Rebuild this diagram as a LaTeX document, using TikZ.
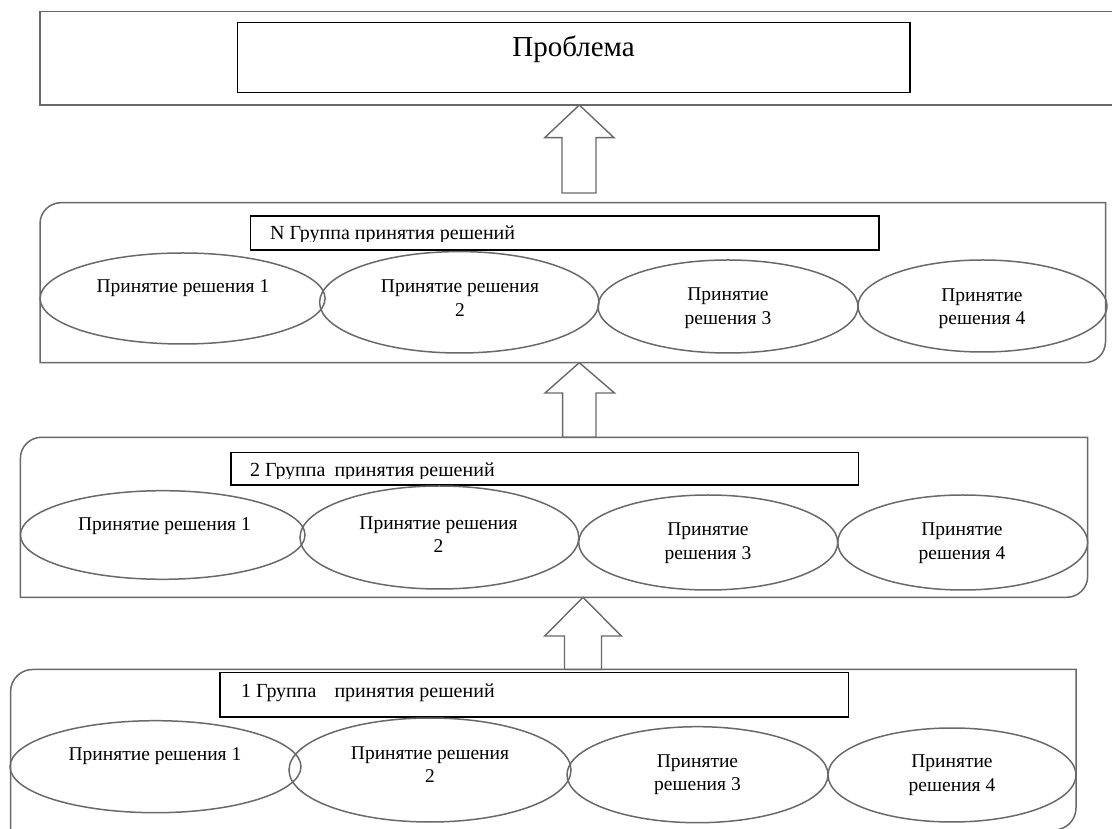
\documentclass[tikz,border=0pt]{standalone}
\usepackage{fontspec}
\setmainfont{Liberation Serif}
\usetikzlibrary{shapes.geometric}
\definecolor{lg}{RGB}{105,105,105}
\tikzset{
  grp/.style={draw=lg, line width=1.5pt},
  ell/.style={ellipse, draw=lg, line width=1.5pt, inner sep=0pt},
  etext/.style={font=\fontsize{19.5}{23.5}\selectfont, align=center, inner sep=0pt},
  ttext/.style={font=\fontsize{20}{24}\selectfont, inner sep=0pt},
  tbox/.style={draw=black, line width=1.2pt},
  barrow/.style={draw=lg, line width=1.4pt, fill=white},
}
\begin{document}
\begin{tikzpicture}[x=1pt,y=1pt]
\useasboundingbox (0,0) rectangle (1112,828);

% top block
\draw[grp] (1125,816.3) -- (40,816.3) -- (40,723) -- (1125,723);
\draw[tbox] (237.6,805.7) rectangle (910,735.3);
\node[font=\fontsize{29}{33}\selectfont, inner sep=0pt, anchor=base] (prob) at (573.5,771.3) {Проблема};

% arrow 1
\coordinate (a1tail) at (579.3,635);
\coordinate (a1tip) at (579.3,723);
\draw[barrow] (562,635) -- (562,690.3) -- (544.7,690.3) -- (a1tip) -- (614,690.3) -- (596,690.3) -- (596,635) -- cycle;

% group N
\draw[grp] (40,465.3) -- (40,604.3) arc[start angle=180,end angle=90,radius=21] -- (1105.5,625.3) -- (1105.5,486.3) arc[start angle=0,end angle=-90,radius=21] -- cycle;
\draw[tbox] (250.7,612) rectangle (879,578);
\begin{scope}
  \clip (250.7,612) rectangle (879,586.3);
  \node[ttext, anchor=base west] (tN) at (270,588) {N Группа принятия решений};
\end{scope}
\node[ell, minimum width=285pt, minimum height=91pt] (n1) at (182.6,529.5) {};
\node[ell, minimum width=279.4pt, minimum height=101.4pt] (n2) at (459.3,525.7) {};
\node[ell, minimum width=260pt, minimum height=93pt] (n3) at (728,521.5) {};
\node[ell, minimum width=249pt, minimum height=92pt] (n4) at (982.5,522) {};
\node[etext] (n1t) at (183,539.8) {Принятие решения 1};
\node[etext] (n2t) at (460,530) {Принятие решения\\2};
\node[etext] (n3t) at (728,520) {Принятие\\решения 3};
\node[etext] (n4t) at (982,519.5) {Принятие\\решения 4};

% arrow 2
\coordinate (a2tip) at (579.3,465.3);
\draw[barrow] (562.6,390.7) -- (562.6,435) -- (545,435) -- (a2tip) -- (614.5,435) -- (596,435) -- (596,390.7) -- cycle;

% group 2
\draw[grp] (20.4,230.7) -- (20.4,369.7) arc[start angle=180,end angle=90,radius=21] -- (1087.7,390.7) -- (1087.7,251.7) arc[start angle=0,end angle=-90,radius=21] -- cycle;
\draw[tbox] (231,375.3) rectangle (858.4,343);
\begin{scope}
  \clip (231,375.3) rectangle (858.4,349.8);
  \node[ttext, anchor=base west] (t2) at (250,351.3) {2 Группа\hspace{9pt}принятия решений};
\end{scope}
\node[ell, minimum width=284.6pt, minimum height=88.6pt] (m1) at (162.7,293) {};
\node[ell, minimum width=278.8pt, minimum height=103pt] (m2) at (439.4,290.5) {};
\node[ell, minimum width=259pt, minimum height=95pt] (m3) at (708.2,285.5) {};
\node[ell, minimum width=250pt, minimum height=95pt] (m4) at (962.7,285.5) {};
\node[etext] (m1t) at (164.5,301.5) {Принятие решения 1};
\node[etext] (m2t) at (438.5,293.2) {Принятие решения\\2};
\node[etext] (m3t) at (708,285) {Принятие\\решения 3};
\node[etext] (m4t) at (962,285) {Принятие\\решения 4};

% arrow 3
\coordinate (a3tip) at (583,230.7);
\draw[barrow] (564.5,158.5) -- (564.5,192) -- (544.7,192) -- (a3tip) -- (621.3,192) -- (601.5,192) -- (601.5,158.5) -- cycle;

% group 1
\draw[grp] (10.6,-2) -- (10.6,136.5) arc[start angle=180,end angle=90,radius=22] -- (1076,158.5) -- (1076,20) arc[start angle=0,end angle=-90,radius=22] -- cycle;
\draw[tbox] (220,155.3) rectangle (848.4,111);
\node[ttext, anchor=base west] (t1) at (241,130) {1 Группа\hspace{18pt}принятия решений};
\node[ell, minimum width=291pt, minimum height=92pt] (k1) at (155.5,61.3) {};
\node[ell, minimum width=282pt, minimum height=104pt] (k2) at (430,58) {};
\node[ell, minimum width=261pt, minimum height=96pt] (k3) at (697.5,53.3) {};
\node[ell, minimum width=248pt, minimum height=94pt] (k4) at (952,53) {};
\node[etext] (k1t) at (155,71.5) {Принятие решения 1};
\node[etext] (k2t) at (430,63.2) {Принятие решения\\2};
\node[etext] (k3t) at (697.5,53.2) {Принятие\\решения 3};
\node[etext] (k4t) at (952,53) {Принятие\\решения 4};
\end{tikzpicture}
\end{document}
